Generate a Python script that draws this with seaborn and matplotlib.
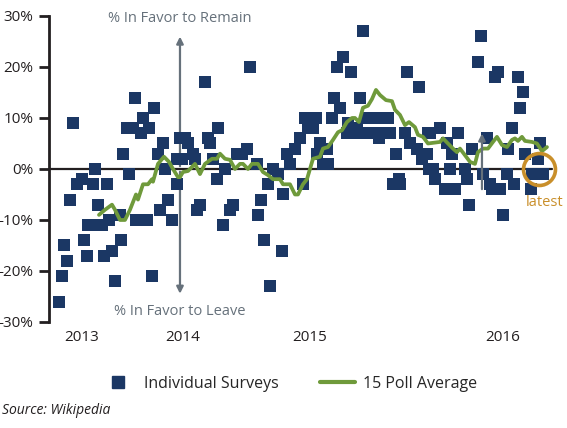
import matplotlib
matplotlib.use("Agg")
import matplotlib.pyplot as plt
from matplotlib.lines import Line2D
import pandas as pd
import seaborn as sns

# individual surveys: poll index, remain minus leave (%)
survey_idx = [2, 3.5, 4.5, 6, 7.5, 9, 11, 13.5, 14.5, 16, 16.5, 19, 20, 20, 21.5, 23.5, 24.5, 26,
              27, 28.5, 30, 32.5, 33, 34, 36, 37, 39, 40, 40.5, 43, 44, 46, 47, 48.5, 49.5, 51.5,
              52.5, 54, 55, 56.5, 58.5, 61, 61, 62.5, 63.5, 65, 66.5, 69, 70, 71, 72.5, 75, 76.5,
              77.5, 79, 81, 81.5, 84, 85, 87.5, 89, 91, 93.5, 96, 97.5, 101, 101.5, 103, 104.5,
              106.5, 107.5, 109, 111.5, 113.5, 114, 116, 117.5, 120, 122.5, 124, 125, 126.5, 127.5,
              129, 130.5, 131, 132.5, 134, 136, 136.5, 138.5, 139.5, 141, 142.5, 144, 146, 146.5,
              148, 149, 151, 152.5, 154, 154, 156, 157, 159, 160.5, 162, 162.5, 164, 166.5, 167.5,
              169, 170.5, 172, 172.5, 175, 176, 177.5, 181, 182, 183.5, 186, 186.5, 187, 187.5,
              189, 190, 192.5, 195, 196, 197.5, 198.5, 200, 201.5, 205, 206, 207, 208.5, 211.5,
              213, 214, 216, 217.5, 218.5, 220, 221.5, 222.5, 224, 226, 226.5, 228.5, 229.5,
              231.5, 232.5, 234, 235, 238, 238.5, 241.5, 242.5, 244]
survey_val = [-26, -21, -15, -18, -6, 9, -3, -2, -14, -17, -11, -3, 0, -11, -7, -11, -17, -3,
              -10, -16, -22, -9, -14, 3, 8, -1, 8, 14, -10, 7, 10, -10, 8, -21, 12, 3,
              -8, 5, 0, -6, -10, 2, -3, 6, 2, 6, 5, 3, 2, -8, -7, 17, 6,
              5, 2, -2, 8, -11, 0, -8, -7, 3, 3, 4, 20, 1, -9, -6, -14,
              -3, -23, 0, -1, -16, -5, 3, 1, 4, 6, -3, 10, 8, 10,
              8, 10, 3, 5, 1, 4, 1, 10, 14, 20, 12, 22, 7, 9,
              19, 7, 8, 14, 27, 7, 10, 7, 10, 7, 6, 10, 7, 10, 7,
              -3, 3, -2, -3, 7, 19, 5, 4, 16, 2, 3, 7, 0, 7,
              0, -2, 8, -4, 5, 0, 3, -4, 7, 0, -2, -7, 4, 21,
              26, -1, 6, -3, -4, 18, 19, -4, -9, -1, 4, 8, -3,
              18, 12, 15, 3, -4, -1, 2, 5, -1]

# 15 poll rolling average
avg_idx = [22, 25, 28.5, 30, 32.5, 35, 37.5, 40.5, 41.5, 44, 46.5, 48.5, 49, 51.5, 54.5, 57,
           59, 61.5, 62.5, 64, 66.5, 70, 72.5, 75, 78.5, 81, 82.5, 85, 87.5, 90, 92.5, 94,
           96.5, 98.5, 101.5, 104, 106.5, 109, 112.5, 114, 117.5, 120, 121.5, 124, 126, 129,
           132.5, 134, 136.5, 139, 141.5, 143.5, 146, 148.5, 150, 152, 154, 156.5, 158.5,
           160.5, 162.5, 165.5, 168.5, 170, 172.5, 175, 177, 180, 181.5, 184, 186.5, 192.5,
           194, 196.5, 199, 201, 202.5, 205, 207.5, 210, 211.5, 214, 216.5, 219, 221, 223.5,
           226, 228.5, 230, 231.5, 233.5, 235, 238.5, 241, 243.5, 246]
avg_val = [-9, -8, -7, -8, -10, -10, -8, -5, -6, -3, -3, -2, -2.5, 1, 2.4, 1.4,
           0, -1.6, -1.6, -0.6, -0.4, 1, -1, 1, 2, 2, 3, 2, 1.8, 0, 1, 1,
           0, 1, 1, -0.6, -1.2, -2, -2, -3, -3, -5, -5, -3, -2, 2,
           2.4, 4, 4.3, 5.7, 7.2, 7.6, 9.2, 10, 10, 9.2, 12, 12.4, 13.7,
           15.5, 14.5, 13.5, 13.3, 11.6, 10.6, 8.6, 9.2, 8.2, 6.7, 6.3, 5, 5.3,
           6, 5, 4, 3.3, 4, 2.7, 1.4, 1, 3.3, 4, 4, 5.3, 6.3, 4.7,
           4.3, 5.7, 6, 5.5, 6.3, 5.5, 5.3, 5, 3.5, 4.3]

year_pos = [13.5, 64, 127.5, 224]
year_labels = ["2013", "2014", "2015", "2016"]
y_ticks = [-30, -20, -10, 0, 10, 20, 30]

navy = "#1b3764"
green = "#6f9a3b"
arrow_gray = "#66717b"
orange = "#c98f2a"
ink = "#231f20"

surveys = pd.DataFrame({"idx": survey_idx, "val": survey_val})
average = pd.DataFrame({"idx": avg_idx, "val": avg_val})

sns.set_style("white")
plt.rcParams["font.family"] = ["Open Sans", "DejaVu Sans"]

fig = plt.figure(figsize=(5.67, 4.28), dpi=100)
ax = fig.add_axes([0.0864, 0.2477, 0.9012, 0.715])

ax.axhline(0, color=ink, lw=1.6, xmax=0.985, zorder=1)
sns.scatterplot(data=surveys, x="idx", y="val", ax=ax, marker="s", s=78,
                color=navy, linewidth=0, clip_on=False, zorder=2, legend=False)
sns.lineplot(data=average, x="idx", y="val", ax=ax, color=green, lw=2.7,
             zorder=3, legend=False)

ax.set_xlim(-3, 252.5)
ax.set_ylim(-30, 30)
ax.set_yticks(y_ticks)
ax.set_yticklabels([f"{t}%" for t in y_ticks], fontsize=11, color=ink)
ax.set_xticks(year_pos)
ax.set_xticklabels(year_labels, fontsize=11, color=ink)
ax.tick_params(axis="x", length=0, pad=6)
ax.tick_params(axis="y", length=7, width=2, color=ink, direction="out", pad=4, left=True)
ax.set_xlabel("")
ax.set_ylabel("")
for side in ["top", "right", "bottom"]:
    ax.spines[side].set_visible(False)
ax.spines["left"].set_color(ink)
ax.spines["left"].set_linewidth(2)

# remain / leave arrows
ax.annotate("", xy=(62.5, 26.5), xytext=(62.5, 0), zorder=1,
            arrowprops=dict(arrowstyle="-|>", color=arrow_gray, lw=1.6, mutation_scale=10))
ax.annotate("", xy=(62.5, -25), xytext=(62.5, 0), zorder=1,
            arrowprops=dict(arrowstyle="-|>", color=arrow_gray, lw=1.6, mutation_scale=10))
ax.text(62.5, 29.5, "% In Favor to Remain", ha="center", va="center",
        fontsize=10.5, color=arrow_gray)
ax.text(62.5, -28, "% In Favor to Leave", ha="center", va="center",
        fontsize=10.5, color=arrow_gray)
ax.annotate("", xy=(213.5, 7.5), xytext=(213.5, -4.5), zorder=4,
            arrowprops=dict(arrowstyle="-|>", color=arrow_gray, lw=1.6, mutation_scale=10))

# latest marker
ax.plot([242], [0], marker="o", markersize=23, markerfacecolor="none",
        markeredgecolor=orange, markeredgewidth=2.6, clip_on=False, zorder=5)
ax.text(245, -6.5, "latest", ha="center", va="center", fontsize=10.5, color=orange)

handles = [Line2D([], [], marker="s", ls="none", color=navy, markersize=8.5),
           Line2D([], [], color=green, lw=3)]
fig.legend(handles, ["Individual Surveys", "15 Poll Average"], loc="center",
           bbox_to_anchor=(0.51, 0.103), ncol=2, frameon=False, fontsize=11.5,
           handlelength=2.2, columnspacing=2.6, handletextpad=0.5)
fig.text(0.004, 0.04, "Source: Wikipedia", fontsize=10, style="italic",
         color=ink, ha="left", va="center")

fig.savefig("out.png", dpi=100)
